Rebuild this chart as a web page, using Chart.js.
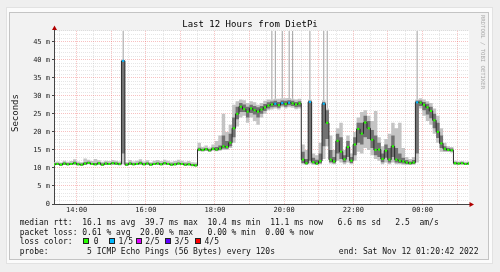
<!DOCTYPE html>
<html><head><meta charset="utf-8">
<script src="https://cdn.jsdelivr.net/npm/chart.js@4.4.1/dist/chart.umd.min.js"></script>
<style>
html,body{margin:0;padding:0;background:#efefef;width:500px;height:272px;overflow:hidden;position:relative;}
#outer{position:absolute;left:6px;top:7px;width:485px;height:255px;background:#fbfbfb;border:1px solid #e2e2e2;}
#inner{position:absolute;left:9px;top:12px;width:478px;height:246px;background:#f2f2f2;border:1px solid #c4c4c4;}
canvas{position:absolute;left:0;top:0;}
.t{position:absolute;font-family:'DejaVu Sans Mono',monospace;font-size:8px;line-height:9px;white-space:pre;color:#111;}
#ylab{left:-5px;top:108px;width:40px;text-align:center;font-size:9px;line-height:10px;transform:rotate(-90deg);}
#rrd{left:480px;top:15px;font-size:5.6px;line-height:6px;color:#a8a8a8;writing-mode:vertical-rl;}
.lb{position:absolute;width:4px;height:4px;border:1px solid #222;top:238px;}
</style></head>
<body>
<div id="outer"></div><div id="inner"></div>
<canvas id="c" width="500" height="272"></canvas>
<div class="t" id="ylab">Seconds</div>
<div class="t" id="rrd">RRDTOOL / TOBI OETIKER</div>
<div class="t" style="left:19.7px;top:218px">median rtt:  16.1 ms avg  39.7 ms max  10.4 ms min  11.1 ms now   6.6 ms sd   2.5  am/s</div>
<div class="t" style="left:19.7px;top:228px">packet loss: 0.61 % avg  20.00 % max   0.00 % min  0.00 % now</div>
<div class="t" style="left:19.7px;top:237px">loss color:</div>
<div class="t" style="left:19.7px;top:246.5px">probe:        5 ICMP Echo Pings (56 Bytes) every 120s</div>
<div class="t" style="right:21.5px;top:246.5px">end: Sat Nov 12 01:20:42 2022</div>
<script>
// ---- data ----
const sampleStepMin = 6;
const startClock = '13:20:42';
const timeTickLabels = ['14:00','16:00','18:00','20:00','22:00','00:00'];
const yTickValues = [0,5,10,15,20,25,30,35,40,45];
const yMax = 48;

const medianRtt = [11.0,11.1,10.9,11.2,11.0,11.1,11.3,11.0,10.9,11.2,11.4,11.1,11.0,11.3,10.9,11.2,11.1,11.3,11.2,11.1,
 39.7,
 10.9,11.2,11.0,11.1,11.3,11.0,11.2,10.9,11.1,11.2,11.0,11.3,11.1,10.9,11.0,11.2,11.1,10.9,11.0,10.8,10.7,
 15.1,15.0,15.2,14.9,15.3,15.1,15.4,
 16.0,15.8,17.0,21.0,25.0,27.0,26.3,25.6,26.5,26.0,25.6,26.2,26.8,27.3,27.6,27.8,27.4,28.0,27.7,28.1,27.9,27.6,27.9,
 12.3,11.3,28.3,11.6,11.2,11.9,27.8,22.5,12.3,11.8,17.5,14.5,12.4,15.8,12.0,16.5,20.8,19.5,22.6,21.0,17.8,15.0,15.1,12.5,14.8,12.3,16.0,12.3,12.0,11.8,11.5,11.3,11.5,
 28.2,28.1,27.5,26.8,25.8,23.2,20.0,16.8,15.3,15.0,14.9,
 11.3,11.2,11.3,11.1,11.2];
const minRtt = [10.7,10.8,10.6,10.8,10.7,10.8,10.9,10.7,10.6,10.8,11.0,10.8,10.7,10.9,10.6,10.8,10.8,10.9,10.8,10.7,
 11.0,
 10.6,10.8,10.7,10.8,10.9,10.7,10.9,10.6,10.8,10.9,10.7,10.9,10.8,10.6,10.7,10.9,10.8,10.6,10.6,10.5,10.4,
 14.6,14.5,14.7,14.4,14.8,14.6,14.8,
 15.0,15.0,15.5,17.0,21.5,24.0,24.5,22.5,24.0,23.0,22.0,24.0,25.0,26.0,26.2,26.5,26.2,26.8,26.5,26.8,26.7,26.3,26.5,
 11.0,10.8,11.2,10.9,10.8,11.0,12.5,16.0,11.2,11.0,12.0,11.5,11.0,11.5,11.0,12.0,14.5,14.0,15.5,15.0,13.5,12.5,12.0,11.0,11.5,11.0,11.5,11.0,11.0,10.9,10.8,10.8,10.9,
 11.5,26.5,24.5,23.0,22.0,19.5,17.0,14.5,14.4,14.4,14.3,
 10.9,10.8,10.9,10.8,10.9];
const loRtt = [10.8,10.9,10.7,10.9,10.8,10.9,11.0,10.8,10.7,10.9,11.1,10.9,10.8,11.0,10.7,10.9,10.9,11.0,10.9,10.8,
 14.0,
 10.7,10.9,10.8,10.9,11.0,10.8,11.0,10.7,10.9,11.0,10.8,11.0,10.9,10.7,10.8,11.0,10.9,10.7,10.8,10.6,10.5,
 14.8,14.7,14.9,14.6,15.0,14.8,15.0,
 15.4,15.3,16.0,18.5,23.5,25.5,25.5,24.0,25.2,24.8,24.0,25.0,25.8,26.5,26.8,27.0,26.7,27.3,27.0,27.4,27.2,26.8,27.0,
 11.4,11.0,12.0,11.2,11.0,11.3,16.0,18.0,11.6,11.3,14.0,12.5,11.6,13.0,11.4,13.5,17.0,16.5,18.5,18.0,15.5,13.5,13.0,11.6,12.8,11.5,13.0,11.5,11.4,11.2,11.1,11.0,11.1,
 14.0,27.2,26.0,24.8,23.8,21.0,18.3,15.5,14.8,14.7,14.6,
 11.0,11.0,11.1,10.9,11.0];
const hiRtt = [11.3,11.4,11.2,11.5,11.3,11.4,11.7,11.3,11.2,11.6,11.7,11.4,11.4,11.6,11.2,11.5,11.4,11.6,11.5,11.4,
 39.7,
 11.2,11.5,11.3,11.4,11.7,11.3,11.5,11.2,11.4,11.5,11.3,11.6,11.4,11.2,11.3,11.5,11.4,11.2,11.3,11.1,11.0,
 15.6,15.3,15.5,15.2,15.7,15.8,16.2,
 19.0,17.5,19.5,24.0,27.0,28.0,27.6,27.0,27.5,27.2,26.8,27.2,27.7,28.2,28.4,28.6,28.3,28.7,28.6,28.8,28.6,28.3,28.5,
 14.5,12.5,28.6,12.8,12.3,14.0,28.3,26.0,15.0,13.0,19.5,18.5,13.5,17.5,13.0,18.5,22.5,22.5,24.5,23.0,20.5,19.0,17.0,14.0,16.5,15.5,19.0,15.5,14.0,12.8,12.2,11.8,12.2,
 28.6,28.7,28.3,27.8,27.0,25.0,22.5,19.0,16.0,15.5,15.4,
 11.6,11.5,11.6,11.4,11.5];
const maxRtt = [11.6,11.8,11.5,12.0,11.7,11.9,12.4,11.8,11.6,12.6,12.3,11.9,12.5,12.1,11.7,12.0,11.9,12.2,12.0,11.8,
 39.7,
 11.6,12.2,11.8,12.0,12.4,11.8,12.1,11.6,12.0,12.2,11.9,12.3,12.0,11.7,11.9,12.3,12.0,11.7,11.9,11.6,11.5,
 17.0,15.8,16.2,15.7,16.5,17.5,19.0,
 25.0,20.0,22.0,27.5,28.5,29.0,28.8,28.0,28.5,28.2,27.5,28.0,28.6,29.0,29.0,29.2,29.2,29.3,29.3,29.4,29.2,29.0,29.2,
 16.5,15.0,29.0,14.0,13.5,17.0,28.8,26.5,19.0,15.0,21.0,22.5,15.0,19.0,14.0,20.0,24.0,25.5,26.0,24.5,23.0,25.8,18.5,16.0,18.0,19.5,22.5,21.0,22.5,15.5,13.0,12.5,13.0,
 29.0,29.3,29.0,28.5,28.0,26.5,24.5,21.0,17.0,16.0,15.8,
 12.0,11.8,11.9,11.7,11.8];
// single very slow pings that run off the top of the graph
const outlierRtt = [null,null,null,null,null,null,null,null,null,null,null,null,null,null,null,null,null,null,null,null,
 60,
 null,null,null,null,null,null,null,null,null,null,null,null,null,null,null,null,null,null,null,null,null,
 null,null,null,null,null,null,null,
 null,null,null,null,null,null,null,null,null,null,null,null,null,null,60,60,null,60,null,60,60,null,null,
 null,null,60,null,null,null,60,60,null,null,null,null,null,null,null,null,null,null,null,null,null,null,null,null,null,null,null,null,null,null,null,null,null,
 60,null,null,null,null,null,null,null,null,null,null,
 null,null,null,null,null];
const lossCount = [0,0,0,0,0,0,0,0,0,0,0,0,0,0,0,0,0,0,0,0,
 1,
 0,0,0,0,0,0,0,0,0,0,0,0,0,0,0,0,0,0,0,0,0,
 0,0,0,0,0,0,0,
 0,0,0,0,0,0,0,0,0,0,0,0,0,0,0,1,0,1,0,1,0,0,0,
 0,0,1,0,0,0,1,0,0,0,0,0,0,0,0,0,0,0,0,0,0,0,0,0,0,0,0,0,0,0,0,0,0,
 1,0,0,0,0,0,0,0,0,0,0,
 0,0,0,0,0];
const lossLabels = ['0','1/5','2/5','3/5','4/5'];
const lossColors = ['#26ff00','#00b8ff','#dd00ff','#5e00ff','#ff0000'];

// ---- loss colour legend ----
const boxLeft = [83,109,136,165,195];
const labLeft = [93.8,118.5,145.2,174.5,204.5];
lossColors.forEach((col,i)=>{
  const d=document.createElement('div'); d.className='lb';
  d.style.left=boxLeft[i]+'px'; d.style.background=col;
  document.body.appendChild(d);
  const s=document.createElement('div'); s.className='t';
  s.style.left=labLeft[i]+'px'; s.style.top='237px'; s.textContent=lossLabels[i];
  document.body.appendChild(s);
});

// ---- time axis ----
const [sh,sm,ss] = startClock.split(':').map(Number);
const startSec = sh*3600+sm*60+ss;
const spanMin = (medianRtt.length-1)*sampleStepMin;
const xGrid = [];
for (let t=Math.ceil(startSec/1800)*1800; (t-startSec)/60 <= spanMin; t+=1800) {
  const hh=Math.floor(t/3600)%24, mm=Math.floor((t%3600)/60);
  const lab=String(hh).padStart(2,'0')+':'+String(mm).padStart(2,'0');
  xGrid.push({value:(t-startSec)/60, label: timeTickLabels.includes(lab)?lab:'', major: mm===0});
}
const yGrid = [];
for (let v=0; v<=yMax; v++) yGrid.push(v);

const pts = arr => arr.map((v,i)=>({x:i*sampleStepMin, y:v}));
const spikes = outlierRtt.map((v,i)=>({x:i*sampleStepMin, y: v===null?null:[maxRtt[i], v]})).filter(p=>p.y!==null);
const MAJ='rgba(230,60,60,0.32)', MIN='rgba(140,140,140,0.22)';
const mono='DejaVu Sans Mono';

const rrdFrame = {
  id:'rrdFrame',
  beforeDraw(c){const {ctx,chartArea:a}=c;ctx.save();ctx.fillStyle='#ffffff';ctx.fillRect(a.left,a.top,a.right-a.left,a.bottom-a.top);ctx.restore();},
  afterDraw(c){
    const {ctx,chartArea:a}=c; ctx.save();
    const xl=Math.round(a.left)+0.5, yb=Math.round(a.bottom)+0.5;
    ctx.strokeStyle='#444'; ctx.lineWidth=1; ctx.beginPath();
    ctx.moveTo(xl,a.top); ctx.lineTo(xl,a.top-3);
    ctx.moveTo(a.right,yb); ctx.lineTo(a.right+2,yb); ctx.stroke();
    ctx.fillStyle='#b00000'; ctx.beginPath();
    ctx.moveTo(xl-2.5,a.top-1); ctx.lineTo(xl+2.5,a.top-1); ctx.lineTo(xl,a.top-5.5); ctx.closePath(); ctx.fill();
    ctx.beginPath();
    ctx.moveTo(a.right+0.5,yb-2.5); ctx.lineTo(a.right+0.5,yb+2.5); ctx.lineTo(a.right+5,yb); ctx.closePath(); ctx.fill();
    ctx.restore();
  }
};

const none='rgba(0,0,0,0)';
new Chart(document.getElementById('c'), {
  type:'line',
  data:{datasets:[
    {data:pts(minRtt), borderColor:none, borderWidth:0, pointRadius:0, fill:false, stepped:'middle', order:3},
    {data:pts(maxRtt), borderColor:none, borderWidth:0, pointRadius:0, fill:'-1', backgroundColor:'#c4c4c4', stepped:'middle', order:3},
    {data:pts(loRtt), borderColor:none, borderWidth:0, pointRadius:0, fill:false, stepped:'middle', order:2},
    {data:pts(hiRtt), borderColor:none, borderWidth:0, pointRadius:0, fill:'-1', backgroundColor:'#727272', stepped:'middle', order:2},
    {data:pts(medianRtt), borderColor:'#2a2a2a', borderWidth:1, stepped:'middle', fill:false,
     pointStyle:'rect', pointRadius:1.5, pointBorderWidth:0,
     pointBackgroundColor: lossCount.map(l=>lossColors[l]), order:1},
    {type:'bar', data:spikes, backgroundColor:'#a0a0a0', borderWidth:0, barThickness:1, maxBarThickness:1,
     inflateAmount:0, grouped:false, order:4}
  ]},
  options:{
    responsive:false, animation:false, devicePixelRatio:1,
    layout:{padding:{top:20,left:0,right:0,bottom:56}},
    plugins:{
      legend:{display:false}, tooltip:{enabled:false},
      title:{display:true, text:'Last 12 Hours from DietPi', color:'#000',
        font:{family:mono,size:9,weight:'normal',lineHeight:1.1}, padding:{top:0,bottom:1}}
    },
    scales:{
      x:{type:'linear', min:0, max:spanMin, offset:false,
        afterBuildTicks:s=>{s.ticks=xGrid.map(g=>({value:g.value}));},
        afterFit:s=>{s.height=12;s.paddingLeft=0;s.paddingRight=31;},
        ticks:{autoSkip:false,maxRotation:0,minRotation:0,padding:1.5,color:'#222',font:{family:mono,size:7},
          callback:(v,i)=>xGrid[i]?xGrid[i].label:''},
        grid:{drawTicks:false,offset:false,lineWidth:1,color:c=>{const g=xGrid[c.index];return g&&g.major?MAJ:MIN;}},
        border:{color:'#444',width:1,dash:[1,1]}
      },
      y:{type:'linear', min:0, max:yMax,
        afterBuildTicks:s=>{s.ticks=yGrid.map(v=>({value:v}));},
        afterFit:s=>{s.width=54;s.paddingTop=0;s.paddingBottom=0;},
        ticks:{autoSkip:false,padding:2,color:'#222',font:{family:mono,size:7},
          callback:v=>yTickValues.includes(v)?(v===0?'0':v+' m'):''},
        grid:{lineWidth:1,tickLength:2,
          color:c=>(c.tick&&c.tick.value%5===0)?MAJ:MIN,
          tickColor:c=>(c.tick&&c.tick.value%5===0)?'#444':none},
        border:{color:'#444',width:1,dash:[1,1]}
      }
    }
  },
  plugins:[rrdFrame]
});
</script>
</body></html>
